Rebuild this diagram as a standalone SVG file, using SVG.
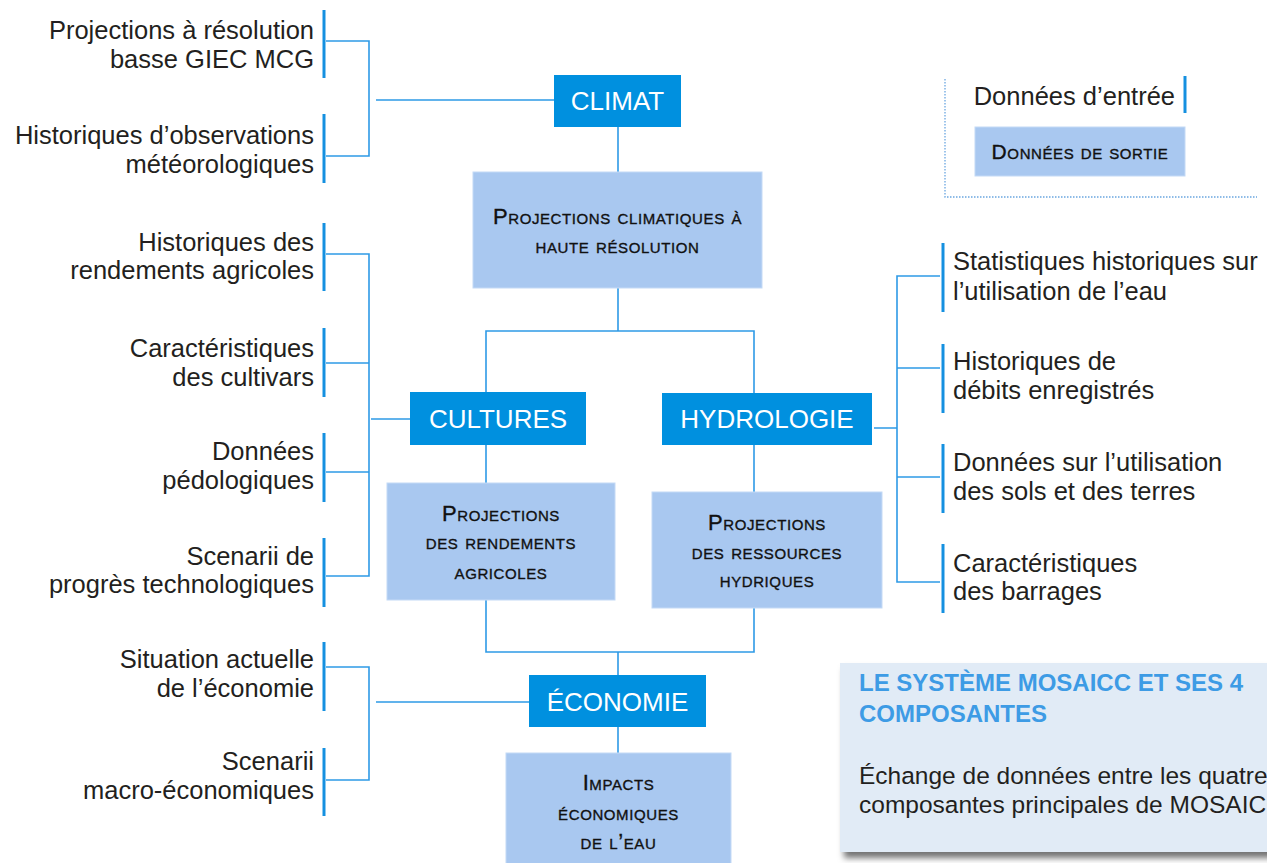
<svg xmlns="http://www.w3.org/2000/svg" width="1267" height="863" viewBox="0 0 1267 863">
<defs>
<style>
.lbl{font-family:"Liberation Sans",Arial,sans-serif;font-size:25.5px;fill:#231f20}
.l{text-anchor:end}
.box{fill:#0090df}
.bt{font-family:"Liberation Sans",Arial,sans-serif;font-size:26px;fill:#ffffff;text-anchor:middle}
.out{fill:#a9c8f0;stroke:#c4daf6;stroke-width:1}
.sc{font-family:"Liberation Sans",Arial,sans-serif;font-size:22px;font-variant:small-caps;letter-spacing:0.6px;fill:#111111;stroke:#111111;stroke-width:0.35;text-anchor:middle}
.bar{stroke:#1590e0;stroke-width:3;fill:none}
.cn{stroke:#2e9ae6;stroke-width:1.6;fill:none}
.ttl{font-family:"Liberation Sans",Arial,sans-serif;font-size:24px;font-weight:bold;fill:#3d9be5}
</style>
<filter id="sh" x="-10%" y="-10%" width="130%" height="130%">
<feDropShadow dx="4" dy="6" stdDeviation="3" flood-color="#000" flood-opacity="0.55"/>
</filter>
</defs>
<rect width="1267" height="863" fill="#ffffff"/>

<g id="connectors">
<path class="cn" d="M326 41H369V156H326M376 100H554"/>
<path class="cn" d="M326 254H369V576H326M326 363H369M326 472H369M371 419H410"/>
<path class="cn" d="M326 667H369V780H326M376 702H529"/>
<path class="cn" d="M940 276H897V582H940M897 368H940M897 477H940M874 428H897"/>
<path class="cn" d="M618 127V172M618 288V331M486 392V331H754V393M486 445V483M754 445V492M486 600V652H754V608M618 652V675M618 727V753"/>
</g>

<g id="in-climat-1"><line class="bar" x1="324" y1="10" x2="324" y2="78"/>
<text class="lbl l" x="314" y="39">Projections à résolution</text><text class="lbl l" x="314" y="68">basse GIEC MCG</text></g>
<g id="in-climat-2"><line class="bar" x1="324" y1="114" x2="324" y2="183"/>
<text class="lbl l" x="314" y="144">Historiques d’observations</text><text class="lbl l" x="314" y="173">météorologiques</text></g>
<g id="in-cult-1"><line class="bar" x1="324" y1="223" x2="324" y2="291"/>
<text class="lbl l" x="314" y="251">Historiques des</text><text class="lbl l" x="314" y="279">rendements agricoles</text></g>
<g id="in-cult-2"><line class="bar" x1="324" y1="328" x2="324" y2="397"/>
<text class="lbl l" x="314" y="357">Caractéristiques</text><text class="lbl l" x="314" y="386">des cultivars</text></g>
<g id="in-cult-3"><line class="bar" x1="324" y1="433" x2="324" y2="502"/>
<text class="lbl l" x="314" y="460">Données</text><text class="lbl l" x="314" y="489">pédologiques</text></g>
<g id="in-cult-4"><line class="bar" x1="324" y1="538" x2="324" y2="607"/>
<text class="lbl l" x="314" y="565">Scenarii de</text><text class="lbl l" x="314" y="593">progrès technologiques</text></g>
<g id="in-eco-1"><line class="bar" x1="324" y1="642" x2="324" y2="711"/>
<text class="lbl l" x="314" y="668">Situation actuelle</text><text class="lbl l" x="314" y="697">de l’économie</text></g>
<g id="in-eco-2"><line class="bar" x1="324" y1="748" x2="324" y2="816"/>
<text class="lbl l" x="314" y="770">Scenarii</text><text class="lbl l" x="314" y="799">macro-économiques</text></g>

<g id="in-hyd-1"><line class="bar" x1="943" y1="243" x2="943" y2="312"/>
<text class="lbl" x="953" y="270">Statistiques historiques sur</text><text class="lbl" x="953" y="300">l’utilisation de l’eau</text></g>
<g id="in-hyd-2"><line class="bar" x1="943" y1="344" x2="943" y2="413"/>
<text class="lbl" x="953" y="370">Historiques de</text><text class="lbl" x="953" y="399">débits enregistrés</text></g>
<g id="in-hyd-3"><line class="bar" x1="943" y1="444" x2="943" y2="513"/>
<text class="lbl" x="953" y="471">Données sur l’utilisation</text><text class="lbl" x="953" y="500">des sols et des terres</text></g>
<g id="in-hyd-4"><line class="bar" x1="943" y1="544" x2="943" y2="613"/>
<text class="lbl" x="953" y="572">Caractéristiques</text><text class="lbl" x="953" y="600">des barrages</text></g>

<g id="climat"><rect class="box" x="554" y="75" width="127" height="52"/><text class="bt" x="617.5" y="110">CLIMAT</text></g>
<g id="proj-climat"><rect class="out" x="473" y="172" width="289" height="116"/>
<text class="sc" x="617.5" y="224">Projections climatiques à</text><text class="sc" x="617.5" y="253">haute résolution</text></g>
<g id="cultures"><rect class="box" x="410" y="392" width="176" height="53"/><text class="bt" x="498" y="428">CULTURES</text></g>
<g id="hydrologie"><rect class="box" x="662" y="393" width="210" height="52"/><text class="bt" x="767" y="428">HYDROLOGIE</text></g>
<g id="proj-rend"><rect class="out" x="387" y="483" width="228" height="117"/>
<text class="sc" x="501" y="521">Projections</text><text class="sc" x="501" y="549">des rendements</text><text class="sc" x="501" y="579">agricoles</text></g>
<g id="proj-res"><rect class="out" x="652" y="492" width="230" height="116"/>
<text class="sc" x="767" y="530">Projections</text><text class="sc" x="767" y="559">des ressources</text><text class="sc" x="767" y="587">hydriques</text></g>
<g id="economie"><rect class="box" x="529" y="675" width="177" height="52"/><text class="bt" x="617.5" y="711">ÉCONOMIE</text></g>
<g id="impacts"><rect class="out" x="506" y="753" width="225" height="115"/>
<text class="sc" x="618.5" y="790">Impacts</text><text class="sc" x="618.5" y="820">économiques</text><text class="sc" x="618.5" y="849">de l’eau</text></g>

<g id="legend">
<path d="M945 79V197H1257" fill="none" stroke="#6aa6e0" stroke-width="1.3" stroke-dasharray="1.5 1.5"/>
<text class="lbl l" x="1175" y="105">Données d’entrée</text>
<line class="bar" x1="1185" y1="76" x2="1185" y2="113"/>
<rect class="out" x="975" y="127" width="210" height="49"/>
<text class="sc" x="1080" y="159" style="font-size:21px">Données de sortie</text>
</g>

<g id="caption">
<rect x="840" y="663" width="440" height="189" fill="#e1ebf6" filter="url(#sh)"/>
<text class="ttl" x="859" y="691">LE SYSTÈME MOSAICC ET SES 4</text>
<text class="ttl" x="859" y="722">COMPOSANTES</text>
<text class="lbl" x="859" y="784" style="font-size:24.5px">Échange de données entre les quatre</text>
<text class="lbl" x="859" y="813" style="font-size:24.5px">composantes principales de MOSAICC</text>
</g>
</svg>
